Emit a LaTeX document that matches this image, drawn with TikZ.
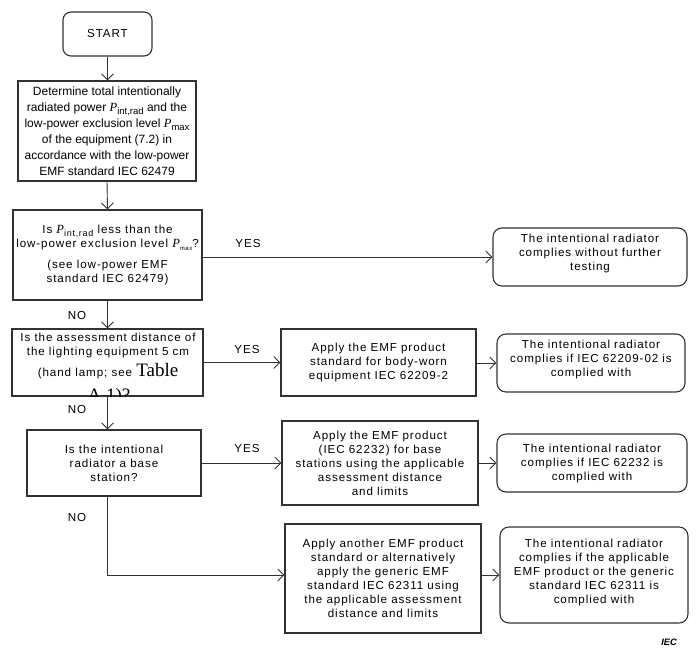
\documentclass[tikz,border=0pt]{standalone}
\usepackage{fontspec}
\setmainfont{Liberation Sans}[LetterSpace=8]
\newfontfamily\plainsans{Liberation Sans}
\newfontfamily\serfam{Liberation Serif}
\usetikzlibrary{arrows.meta}
\definecolor{linec}{RGB}{50,50,50}
\newcommand\Psub[3]{{\serfam\itshape\fontsize{#1}{#1}\selectfont P}\raisebox{-3pt}{\fontsize{#2}{#2}\selectfont #3}}
\tikzset{
  base/.style={draw=linec, line width=1.1pt, align=center, inner sep=0pt, font=\fontsize{11.6}{14}\selectfont},
  proc/.style={base},
  term/.style={base, rounded corners=9pt},
  arr/.style={draw=linec, line width=0.9pt, -{Straight Barb[length=6pt,width=12pt]}},
  lab/.style={font=\fontsize{11.6}{14}\selectfont, inner sep=0pt},
  txt/.style={align=center, inner sep=0pt, font=\fontsize{11.6}{14}\selectfont}
}
\begin{document}
\begin{tikzpicture}[x=1pt,y=-1pt]
\useasboundingbox (0,0) rectangle (700,656);

\node[term, rounded corners=8pt, minimum width=89, minimum height=44] (start) at (107.5,34) {START};

\node[proc, minimum width=178, minimum height=100, font=\plainsans\fontsize{12}{16}\selectfont] (b1) at (107,131)
 {Determine total intentionally\\
  radiated power \Psub{12.5}{9.5}{int,rad} and the\\
  low-power exclusion level \Psub{12.5}{9.5}{max}\\
  of the equipment (7.2) in\\
  accordance with the low-power\\
  EMF standard IEC 62479};

\node[proc, minimum width=189, minimum height=90] (q1) at (107.5,255)
 {Is \Psub{12.5}{9}{int,rad} less than the\\
  low-power exclusion level \Psub{12.5}{6}{max}?\\[7pt]
  (see low-power EMF\\
  standard IEC 62479)};

\node[term, minimum width=194, minimum height=58] (r1) at (590,257)
 {The intentional radiator\\complies without further\\testing\\[-5pt]};

\node[proc, minimum width=191, minimum height=67] (q2) at (107.5,362.5) {};
\begin{scope}
  \clip (q2.south west) rectangle (q2.north east);
  \node[txt, anchor=north] (q2t) at (108,333)
   {Is the assessment distance of\\
    the lighting equipment 5 cm\\[4pt]
    (hand lamp; see {\serfam\fontsize{19}{19}\selectfont Table}};
  \node[txt, anchor=base, font=\serfam\fontsize{19}{19}\selectfont] (q2u) at (109,401) {A.1)?};
\end{scope}

\node[proc, minimum width=195, minimum height=67] (b2) at (378.5,362.5)
 {Apply the EMF product\\standard for body-worn\\equipment IEC 62209-2};

\node[term, minimum width=188, minimum height=58] (r2) at (591,363)
 {The intentional radiator\\complies if IEC 62209-02 is\\complied with\\[-5pt]};

\node[proc, minimum width=174, minimum height=66] (q3) at (114,463)
 {Is the intentional\\radiator a base\\station?};

\node[proc, minimum width=196, minimum height=84] (b3) at (380,463)
 {Apply the EMF product\\(IEC 62232) for base\\stations using the applicable\\assessment distance\\and limits};

\node[term, minimum width=190, minimum height=58] (r3) at (592,463)
 {The intentional radiator\\complies if IEC 62232 is\\complied with};

\node[proc, minimum width=196, minimum height=109] (b4) at (383,578.5)
 {Apply another EMF product\\standard or alternatively\\apply the generic EMF\\standard IEC 62311 using\\the applicable assessment\\distance and limits};

\node[term, minimum width=188, minimum height=96] (r4) at (594,575)
 {The intentional radiator\\complies if the applicable\\EMF product or the generic\\standard IEC 62311 is\\complied with\\[-7pt]};

\coordinate (elbow) at (107,575);

\draw[arr] (start.south) -- (start.south |- b1.north);
\draw[arr] (b1.south) -- (q1.north);
\draw[arr] (r1.west -| q1.east) -- (r1.west);
\draw[arr] (q1.south) -- (q2.north);
\draw[arr] (q2.east) -- (b2.west);
\draw[arr] (b2.east |- r2.west) -- (r2.west);
\draw[arr] (q2.south) -- (q2.south |- q3.north);
\draw[arr] (q3.east) -- (b3.west);
\draw[arr] (b3.east) -- (r3.west);
\draw[arr] (q3.south -| elbow) -- (elbow) -- (elbow -| b4.west);
\draw[arr] (b4.east |- r4.west) -- (r4.west);

\node[lab] (y1) at (248,244) {YES};
\node[lab] (y2) at (247,349) {YES};
\node[lab] (y3) at (247,448) {YES};
\node[lab] (n1) at (77,315) {NO};
\node[lab] (n2) at (77,409) {NO};
\node[lab] (n3) at (77,517) {NO};
\node[inner sep=0pt, font=\plainsans\bfseries\itshape\fontsize{9.3}{10}\selectfont] (iec) at (669,642) {IEC};
\end{tikzpicture}
\end{document}
